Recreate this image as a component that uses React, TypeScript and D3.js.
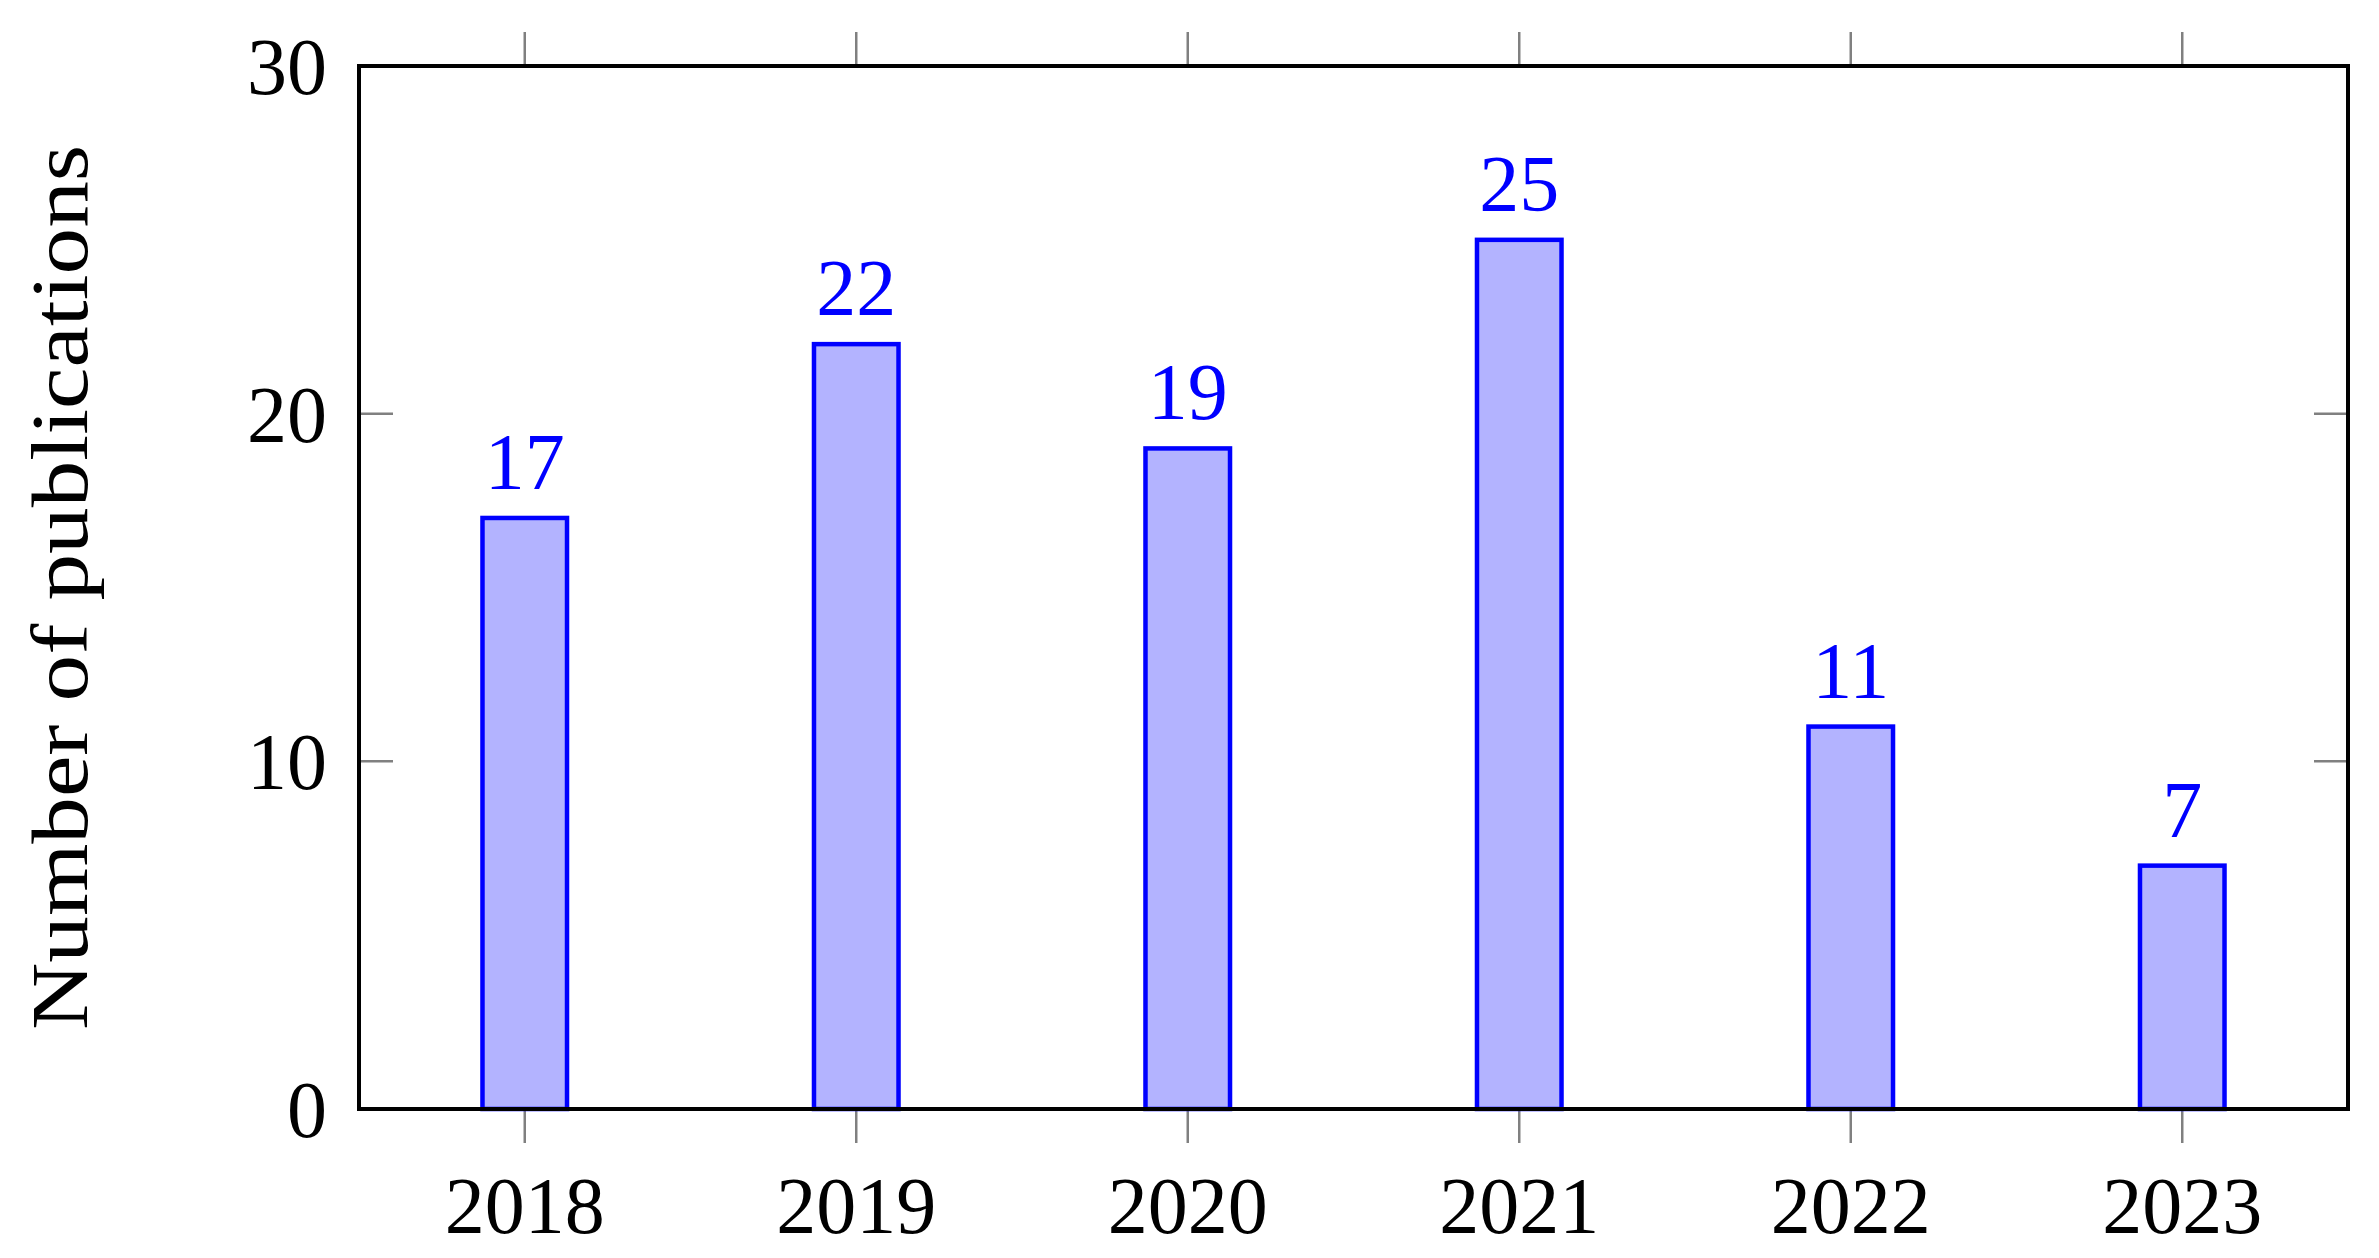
import * as d3 from "d3";
import { useEffect, useRef } from "react";

const years = ["2018", "2019", "2020", "2021", "2022", "2023"];
const publications = [17, 22, 19, 25, 11, 7];
const yTicks = [0, 10, 20, 30];

const W = 2379;
const H = 1258;

const App = () => {
    const svgRef = useRef(null);

    useEffect(() => {
        const svg = d3.select(svgRef.current);
        svg.selectAll("*").remove();

        const margin = { top: 66, bottom: 149, left: 359, right: 31 };
        const x0 = margin.left;
        const x1 = W - margin.right;
        const y0 = H - margin.bottom;
        const y1 = margin.top;

        const scaleX = d3.scalePoint().domain(years).range([x0, x1]).padding(0.5);
        const scaleY = d3.scaleLinear().domain([0, 30]).range([y0, y1]);
        const barWidth = scaleX.step() * 0.255;
        const tickLen = 34;
        const font = "'Liberation Serif', 'Times New Roman', serif";

        // ticks (gray)
        const ticks = svg.append("g").attr("stroke", "#808080").attr("stroke-width", 2.5);
        years.forEach(y => {
            const x = scaleX(y);
            ticks.append("line").attr("x1", x).attr("x2", x).attr("y1", y0).attr("y2", y0 + tickLen);
            ticks.append("line").attr("x1", x).attr("x2", x).attr("y1", y1).attr("y2", y1 - tickLen);
        });
        yTicks.forEach(t => {
            const y = scaleY(t);
            ticks.append("line").attr("x1", x0).attr("x2", x0 + tickLen).attr("y1", y).attr("y2", y);
            ticks.append("line").attr("x1", x1).attr("x2", x1 - tickLen).attr("y1", y).attr("y2", y);
        });

        // bars
        svg.selectAll(".bar")
            .data(publications)
            .enter()
            .append("rect")
            .attr("x", (d, i) => scaleX(years[i]) - barWidth / 2)
            .attr("y", d => scaleY(d))
            .attr("width", barWidth)
            .attr("height", d => scaleY(0) - scaleY(d))
            .style("fill", "#b3b3ff")
            .style("stroke", "#0000ff")
            .style("stroke-width", 4.5);

        // value labels
        svg.selectAll(".val")
            .data(publications)
            .enter()
            .append("text")
            .attr("x", (d, i) => scaleX(years[i]))
            .attr("y", d => scaleY(d) - 29)
            .attr("text-anchor", "middle")
            .style("font-family", font)
            .style("font-size", "80px")
            .style("fill", "#0000ff")
            .text(d => d);

        // frame
        svg.append("rect")
            .attr("x", x0)
            .attr("y", y1)
            .attr("width", x1 - x0)
            .attr("height", y0 - y1)
            .style("fill", "none")
            .style("stroke", "#000")
            .style("stroke-width", 4);

        // x tick labels
        svg.selectAll(".xl")
            .data(years)
            .enter()
            .append("text")
            .attr("x", d => scaleX(d))
            .attr("y", 1233)
            .attr("text-anchor", "middle")
            .style("font-family", font)
            .style("font-size", "80px")
            .text(d => d);

        // y tick labels
        svg.selectAll(".yl")
            .data(yTicks)
            .enter()
            .append("text")
            .attr("x", 327)
            .attr("y", d => scaleY(d) + 28)
            .attr("text-anchor", "end")
            .style("font-family", font)
            .style("font-size", "80px")
            .text(d => d);

        // y axis label
        svg.append("text")
            .attr("transform", `translate(87, ${(y0 + y1) / 2}) rotate(-90)`)
            .attr("text-anchor", "middle")
            .attr("textLength", 885)
            .attr("lengthAdjust", "spacingAndGlyphs")
            .style("font-family", font)
            .style("font-size", "80px")
            .text("Number of publications");
    }, []);

    return (
        <svg
            ref={svgRef}
            width={W}
            height={H}
            style={{ position: "absolute", left: 0, top: 0, background: "#fff" }}
        />
    );
};

export default App;
